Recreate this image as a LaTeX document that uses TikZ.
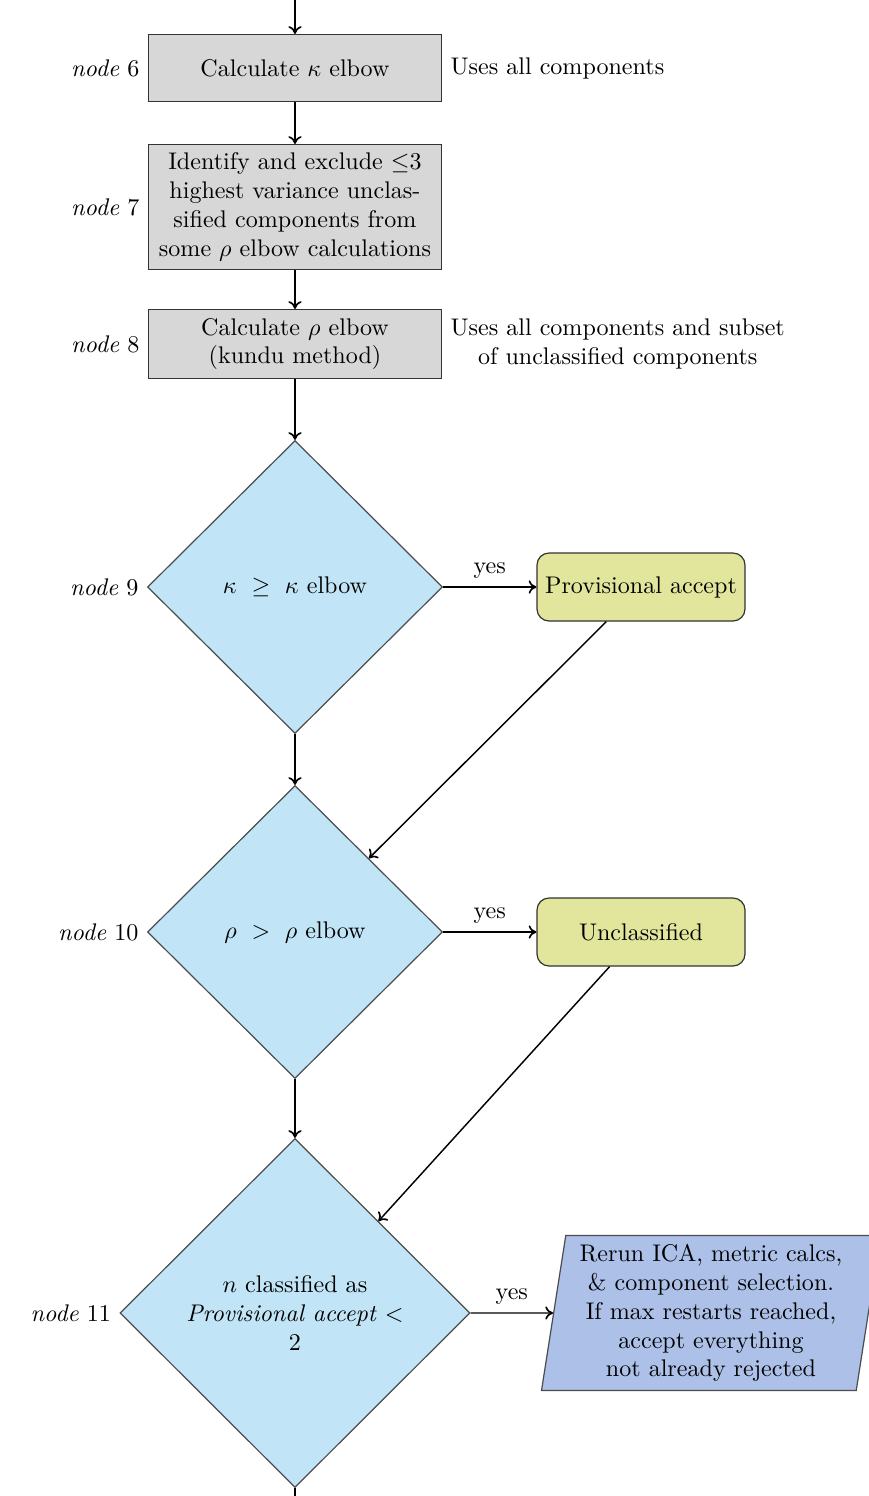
\documentclass[tikz,border=0pt]{standalone}
\usetikzlibrary{shapes.geometric,arrows.meta}
\definecolor{boxgray}{RGB}{215,215,215}
\definecolor{decblue}{RGB}{193,229,246}
\definecolor{termyel}{RGB}{226,230,156}
\definecolor{ioblue}{RGB}{172,192,232}
\begin{document}
\begin{tikzpicture}[x=0.0146cm,y=-0.0146cm,
  procbox/.style={rectangle, draw=black!80, line width=0.5pt, fill=boxgray, minimum width=293*0.0146cm, align=center, inner sep=2pt},
  decision/.style={diamond, draw=black!70, line width=0.5pt, fill=decblue, align=center, aspect=1, inner sep=0pt},
  termbox/.style={rectangle, rounded corners=5pt, draw=black!80, line width=0.5pt, fill=termyel, minimum width=208*0.0146cm, minimum height=68*0.0146cm},
  iobox/.style={trapezium, trapezium left angle=80, trapezium right angle=100, trapezium stretches body, draw=black!70, line width=0.5pt, fill=ioblue, align=center, minimum width=339*0.0146cm, minimum height=155*0.0146cm, inner sep=0pt},
  flow/.style={-{To[length=3.2pt,width=5.5pt,line width=0.7pt]}, black, line width=0.6pt},
  plainline/.style={black, line width=0.6pt},
  side/.style={anchor=east},
  note/.style={anchor=west, align=center}]
\useasboundingbox (0,0) rectangle (869,1496);

\node[procbox, minimum height=67*0.0146cm] (b6) at (295,68) {Calculate $\kappa$ elbow};
\node[procbox, minimum height=125*0.0146cm] (b7) at (295,207) {Identify and exclude $\leq$3\\highest variance unclas-\\sified components from\\some $\rho$ elbow calculations};
\node[procbox, minimum height=69*0.0146cm] (b8) at (295,344) {Calculate $\rho$ elbow\\(kundu method)};
\node[decision, minimum width=295*0.0146cm, minimum height=293*0.0146cm] (d9) at (295,587) {$\kappa\ \geq\ \kappa$ elbow};
\node[decision, minimum width=295*0.0146cm, minimum height=293*0.0146cm] (d10) at (295,932) {$\rho\ >\ \rho$ elbow};
\node[decision, minimum width=350*0.0146cm, minimum height=349*0.0146cm] (d11) at (295,1313) {$n$ classified as\\\textit{Provisional accept} $<$\\2};
\node[termbox] (pa) at (641,587) {Provisional accept};
\node[termbox] (uc) at (641,932) {Unclassified};
\node[iobox] (io) at (711,1313) {Rerun ICA, metric calcs,\\\& component selection.\\If max restarts reached,\\accept everything\\not already rejected};

\node[side] (l6) at (b6.west) {\textit{node} 6};
\node[side] (l7) at (b7.west) {\textit{node} 7};
\node[side] (l8) at (b8.west) {\textit{node} 8};
\node[side] (l9) at (d9.west) {\textit{node} 9};
\node[side] (l10) at (d10.west) {\textit{node} 10};
\node[side] (l11) at (d11.west) {\textit{node} 11};

\node[note] (n6) at (b6.east) {Uses all components};
\node[note] (n8) at (b8.east) {Uses all components and subset\\of unclassified components};

\coordinate (top) at (295,0);
\coordinate (bot) at (295,1500);
\draw[flow] (top) -- (b6);
\draw[flow] (b6) -- (b7);
\draw[flow] (b7) -- (b8);
\draw[flow] (b8) -- (d9);
\draw[flow] (d9) -- (d10);
\draw[flow] (d10) -- (d11);
\draw[plainline] (d11) -- (bot);
\draw[flow] (d9) -- node[above] {yes} (pa);
\draw[flow] (d10) -- node[above] {yes} (uc);
\draw[flow] (d11) -- node[above] {yes} (io);
\draw[flow] (pa) -- (d10);
\draw[flow] (uc) -- (d11);
\end{tikzpicture}
\end{document}
